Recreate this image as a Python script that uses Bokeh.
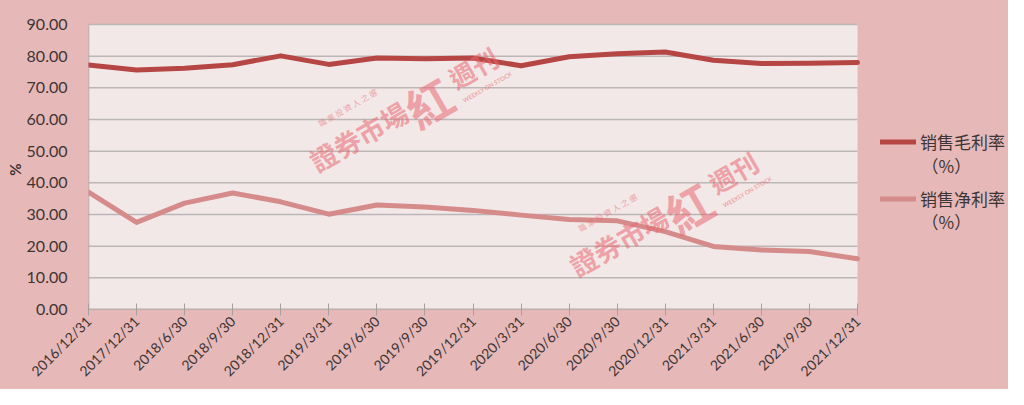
import math
from bokeh.plotting import figure
from bokeh.models import (Range1d, FixedTicker, ColumnDataSource, Legend,
                          LegendItem)
from bokeh.core.properties import value
from bokeh.embed import file_html
from bokeh.resources import INLINE

# ---------------- data ----------------
dates = ["2016/12/31", "2017/12/31", "2018/6/30", "2018/9/30", "2018/12/31",
         "2019/3/31", "2019/6/30", "2019/9/30", "2019/12/31", "2020/3/31",
         "2020/6/30", "2020/9/30", "2020/12/31", "2021/3/31", "2021/6/30",
         "2021/9/30", "2021/12/31"]
gross_margin = [77.2, 75.6, 76.2, 77.3, 80.1, 77.4, 79.4, 79.2, 79.4, 77.0,
                79.8, 80.8, 81.3, 78.7, 77.7, 77.8, 78.0]
net_margin = [37.1, 27.5, 33.6, 36.8, 34.0, 30.1, 33.0, 32.4, 31.3, 29.8,
              28.4, 28.0, 24.6, 19.9, 18.8, 18.3, 16.0]
series_names = ["销售毛利率", "销售净利率"]
series_unit = "（%）"
y_ticks = [0, 10, 20, 30, 40, 50, 60, 70, 80, 90]
y_label = "%"

# ---------------- styles ----------------
OUTER_BG = "#e6b9b8"
PLOT_BG = "#f2e8e8"
GROSS_COLOR = "#b64644"
NET_COLOR = "#d68b8b"
GRID_COLOR = "#bdb6b6"
AXIS_COLOR = "#a8a0a0"
TEXT_COLOR = "#3d3535"
FONT = "Lato"
CJK = "Noto Sans CJK SC"

# ---------------- layout ----------------
W, H = 1008, 389
B_LEFT, PLOT_TOP_PX, B_BOTTOM = 88, 24, 80
PLOT_RIGHT_PX = 857                      # right edge of the plotting area
n = len(dates)
x_last = n - 1
px_per_x = (PLOT_RIGHT_PX - B_LEFT) / x_last
x_max = (W - B_LEFT) / px_per_x           # frame extends under the legend
y_top = y_ticks[-1]
frame_bottom = H - B_BOTTOM
px_per_y = (frame_bottom - PLOT_TOP_PX) / y_top
y_max = y_top + PLOT_TOP_PX / px_per_y    # frame extends to the top edge

idx = list(range(n))
src = ColumnDataSource(dict(x=idx, gross=gross_margin, net=net_margin))

p = figure(width=W, height=H, output_backend="svg", toolbar_location=None,
           x_range=Range1d(0, x_max), y_range=Range1d(0, y_max))
p.min_border_left = B_LEFT
p.min_border_right = 0
p.min_border_top = 0
p.min_border_bottom = B_BOTTOM
# page-coloured element background; canvas fills left transparent (no seams)
p.styles = {"background-color": OUTER_BG}
p.background_fill_color = None
p.border_fill_color = None
p.outline_line_color = None
p.grid.visible = False

# plotting-area background, gridlines and axis lines (only over the data span)
p.quad(left=[0], right=[x_last], bottom=[0], top=[y_top],
       fill_color=PLOT_BG, line_color=None)
p.segment(x0=[0] * len(y_ticks), x1=[x_last] * len(y_ticks), y0=y_ticks,
          y1=y_ticks, line_color=GRID_COLOR, line_width=1.5)
p.segment(x0=[0, 0], x1=[x_last, 0], y0=[0, 0], y1=[0, y_top],
          line_color=AXIS_COLOR, line_width=1.5)

# y axis
p.yaxis.ticker = FixedTicker(ticks=y_ticks)
p.yaxis.major_label_overrides = {t: f"{t:.2f}" for t in y_ticks}
p.yaxis.major_tick_in = 0
p.yaxis.major_tick_out = 0
p.yaxis.minor_tick_line_color = None
p.yaxis.major_label_standoff = 21
p.yaxis.axis_line_color = None
p.yaxis.major_label_text_font = FONT
p.yaxis.major_label_text_font_size = "16px"
p.yaxis.major_label_text_color = TEXT_COLOR
# non-breaking spaces keep the rotated "%" centred on the plotting area
p.yaxis.axis_label = y_label + "\u00a0" * 8
p.yaxis.axis_label_text_font = FONT
p.yaxis.axis_label_text_font_size = "15px"
p.yaxis.axis_label_text_font_style = "bold"
p.yaxis.axis_label_text_color = TEXT_COLOR
p.yaxis.axis_label_standoff = 0

# x axis
p.xaxis.ticker = FixedTicker(ticks=idx)
p.xaxis.major_label_overrides = {i: d for i, d in zip(idx, dates)}
p.xaxis.major_label_orientation = math.pi / 4
p.xaxis.minor_tick_line_color = None
p.xaxis.major_tick_in = 6
p.xaxis.major_tick_out = 6
p.xaxis.major_tick_line_color = AXIS_COLOR
p.xaxis.axis_line_color = None
p.xaxis.major_label_standoff = 3
p.xaxis.major_label_text_font = FONT
p.xaxis.major_label_text_font_size = "14px"
p.xaxis.major_label_text_color = TEXT_COLOR

# series
r_gross = p.line("x", "gross", source=src, line_color=GROSS_COLOR, line_width=5,
                 line_join="round", line_cap="round")
r_net = p.line("x", "net", source=src, line_color=NET_COLOR, line_width=5,
               line_join="round", line_cap="round")

# watermark (two copies)
WM_COLOR = "#ea6670"
WM_ALPHA = 0.55
wm_angle = math.radians(30)
for dx, dy in [(0.0, 0.0), (5.41, -33.1)]:
    p.text(x=[5.62 + dx], y=[54.7 + dy], text=["證券市場"], angle=wm_angle,
           text_font=value("Noto Sans CJK TC"), text_font_style="bold",
           text_font_size="27px", text_align="center", text_baseline="middle",
           text_color=WM_COLOR, text_alpha=WM_ALPHA)
    p.text(x=[7.07 + dx], y=[65.6 + dy], text=["紅"], angle=wm_angle,
           text_font=value("Noto Sans CJK TC"), text_font_style="bold",
           text_font_size="46px", text_align="center", text_baseline="middle",
           text_color=WM_COLOR, text_alpha=WM_ALPHA)
    p.text(x=[8.0 + dx], y=[76.5 + dy], text=["週刊"], angle=wm_angle,
           text_font=value("Noto Sans CJK TC"), text_font_style="bold",
           text_font_size="26px", text_align="center", text_baseline="middle",
           text_color=WM_COLOR, text_alpha=WM_ALPHA)
    p.text(x=[5.39 + dx], y=[63.75 + dy], text=["職 業 投 資 人 之 選"], angle=wm_angle,
           text_font=value("Noto Sans CJK TC"), text_font_size="8px",
           text_align="center", text_baseline="middle",
           text_color=WM_COLOR, text_alpha=WM_ALPHA)
    p.text(x=[8.3 + dx], y=[70.3 + dy], text=["WEEKLY ON STOCK"], angle=wm_angle,
           text_font=value(FONT), text_font_size="6px", text_font_style="bold",
           text_align="center", text_baseline="middle",
           text_color=WM_COLOR, text_alpha=WM_ALPHA)

# ---------------- legend (inside the frame, right of the data span) ----------
ITEM_H, ITEM_GAP = 25, 32
LEG_X = 880
legend_h = 2 * ITEM_H + ITEM_GAP
legend_top = 141.5 - ITEM_H / 2
legend = Legend(
    items=[LegendItem(label=series_names[0], renderers=[r_gross]),
           LegendItem(label=series_names[1], renderers=[r_net])],
    location=(LEG_X - B_LEFT, frame_bottom - legend_top - legend_h),
    orientation="vertical", glyph_width=36, glyph_height=ITEM_H,
    label_height=ITEM_H, label_standoff=4, spacing=ITEM_GAP,
    padding=0, margin=0,
    border_line_color=None, background_fill_alpha=0,
    label_text_font=CJK, label_text_font_size="17px",
    label_text_color=TEXT_COLOR)
p.add_layout(legend)

# second line of each legend entry
unit_rows_px = [165, 221]
p.text(x=[(LEG_X + 41 - B_LEFT) / px_per_x] * 2,
       y=[(frame_bottom - yy) / px_per_y for yy in unit_rows_px],
       text=[series_unit] * 2, text_font=value(CJK), text_font_size="17px",
       text_baseline="middle", text_align="left", text_color=TEXT_COLOR)

open("out.html", "w").write(file_html(p, INLINE))
